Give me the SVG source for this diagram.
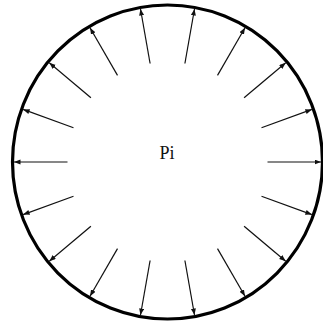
<svg xmlns="http://www.w3.org/2000/svg" width="323" height="324" viewBox="0 0 323 324">
<style>
.rim{fill:none;stroke:#000;stroke-width:3.2}
.arr line{stroke:#111;stroke-width:1.2;marker-end:url(#ah)}
.lbl{font-family:"Liberation Serif","DejaVu Serif",serif;font-size:18px;fill:#111}
</style>
<defs>
<marker id="ah" markerUnits="userSpaceOnUse" markerWidth="7" markerHeight="6" refX="6.5" refY="2.5" orient="auto">
<path d="M0,0 L6.5,2.5 L0,5 Z" fill="#111"/>
</marker>
</defs>
<rect width="323" height="324" fill="#fff"/>
<g id="vessel">
<ellipse class="rim" cx="167.5" cy="162" rx="155" ry="157"/>
<text class="lbl" x="167" y="159" text-anchor="middle">Pi</text>
</g>
<g id="connectors" class="arr">
<line x1="267.5" y1="162" x2="321" y2="162"/>
<line x1="261.5" y1="127.8" x2="311.9" y2="109.4"/>
<line x1="244.1" y1="97.7" x2="285.7" y2="62.8"/>
<line x1="217.5" y1="75.4" x2="245" y2="27.8"/>
<line x1="184.9" y1="63.5" x2="194.5" y2="9"/>
<line x1="150.1" y1="63.5" x2="140.5" y2="9"/>
<line x1="117.5" y1="75.4" x2="90" y2="27.8"/>
<line x1="90.9" y1="97.7" x2="49.3" y2="62.8"/>
<line x1="73.5" y1="127.8" x2="23.1" y2="109.4"/>
<line x1="67.5" y1="162" x2="14" y2="162"/>
<line x1="73.5" y1="196.2" x2="23.1" y2="214.6"/>
<line x1="90.9" y1="226.3" x2="49.3" y2="261.2"/>
<line x1="117.5" y1="248.6" x2="90" y2="296.2"/>
<line x1="150.1" y1="260.5" x2="140.5" y2="315"/>
<line x1="184.9" y1="260.5" x2="194.5" y2="315"/>
<line x1="217.5" y1="248.6" x2="245" y2="296.2"/>
<line x1="244.1" y1="226.3" x2="285.7" y2="261.2"/>
<line x1="261.5" y1="196.2" x2="311.9" y2="214.6"/>
</g>
</svg>
